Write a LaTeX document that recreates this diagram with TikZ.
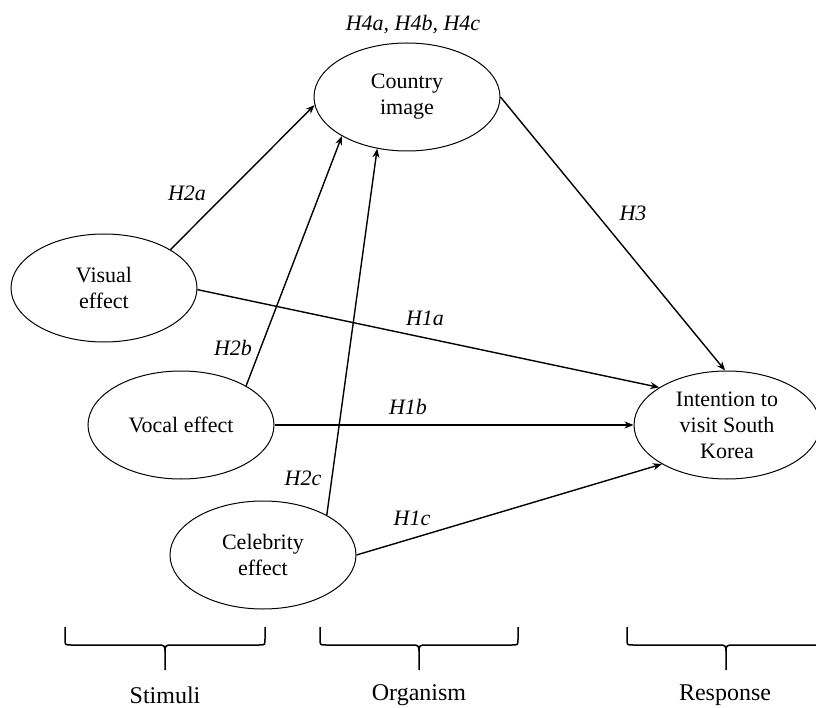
\documentclass[tikz,border=0pt]{standalone}
\usepackage{fontspec}
\setmainfont{Liberation Serif}
\usetikzlibrary{arrows.meta,shapes.geometric}

% curly brace over a stage: left end, tip, right end (x); top y, bar y, tip y
\newcommand\stagebrace[3]{%
  \draw[bracestyle] (#1,627) -- (#1,639)
    .. controls (#1,645) and (#1,645) .. ({#1+6},645) -- ({#2-6},645)
    .. controls ({#2-1},645) and (#2,646) .. (#2,651) -- (#2,670);
  \draw[bracestyle] (#3,627) -- (#3,639)
    .. controls (#3,645) and (#3,645) .. ({#3-6},645) -- ({#2+6},645)
    .. controls ({#2+1},645) and (#2,646) .. (#2,651);
}

\begin{document}
\begin{tikzpicture}[x=1pt,y=-1pt,
  construct/.style={draw, ellipse, minimum width=186pt, minimum height=108pt,
    inner sep=0pt, align=center, line width=1pt,
    font=\fontsize{22}{26}\selectfont},
  hyp/.style={font=\fontsize{22}{26}\selectfont\itshape, inner sep=1pt},
  link/.style={line width=1.4pt, -{Stealth[length=9pt,width=7pt]}},
  bracestyle/.style={line width=1.5pt},
  stage/.style={font=\fontsize{24}{28}\selectfont, inner sep=1pt}]

\useasboundingbox (0,0) rectangle (816,708);

% constructs
\node[construct] (ci)  at (407,97)  {Country\\image};
\node[construct] (vis) at (104,288) {Visual\\effect};
\node[construct] (voc) at (181,425) {Vocal effect};
\node[construct] (cel) at (263,555) {Celebrity\\effect};
\node[construct] (int) at (727,425) {Intention to\\visit South\\Korea};

% hypothesised paths
\draw[link] (vis.30)  -- (ci.185);
\draw[link] (voc.31)  -- (ci.211);
\draw[link] (cel.32)  -- (ci.240);
\draw[link] (vis.359) -- (int.151);
\draw[link] (voc.east) -- (int.west);
\draw[link] (cel.east) -- (int.211);
\draw[link] (ci.east) -- (int.92);

% hypothesis labels
\node[hyp] (h4) at (413,25)  {H4a, H4b, H4c};
\node[hyp] (h2a) at (187,193) {H2a};
\node[hyp] (h2b) at (233,348) {H2b};
\node[hyp] (h2c) at (303,478) {H2c};
\node[hyp] (h1a) at (425,318) {H1a};
\node[hyp] (h1b) at (408,407) {H1b};
\node[hyp] (h1c) at (412,518) {H1c};
\node[hyp] (h3)  at (633,213) {H3};

% S-O-R stages
\stagebrace{65}{165}{265}
\stagebrace{320}{419}{518}
\stagebrace{627}{726}{825}
\node[stage] (stim) at (165,695) {Stimuli};
\node[stage] (org)  at (419,695) {Organism};
\node[stage] (resp) at (725,695) {Response};
\end{tikzpicture}
\end{document}
